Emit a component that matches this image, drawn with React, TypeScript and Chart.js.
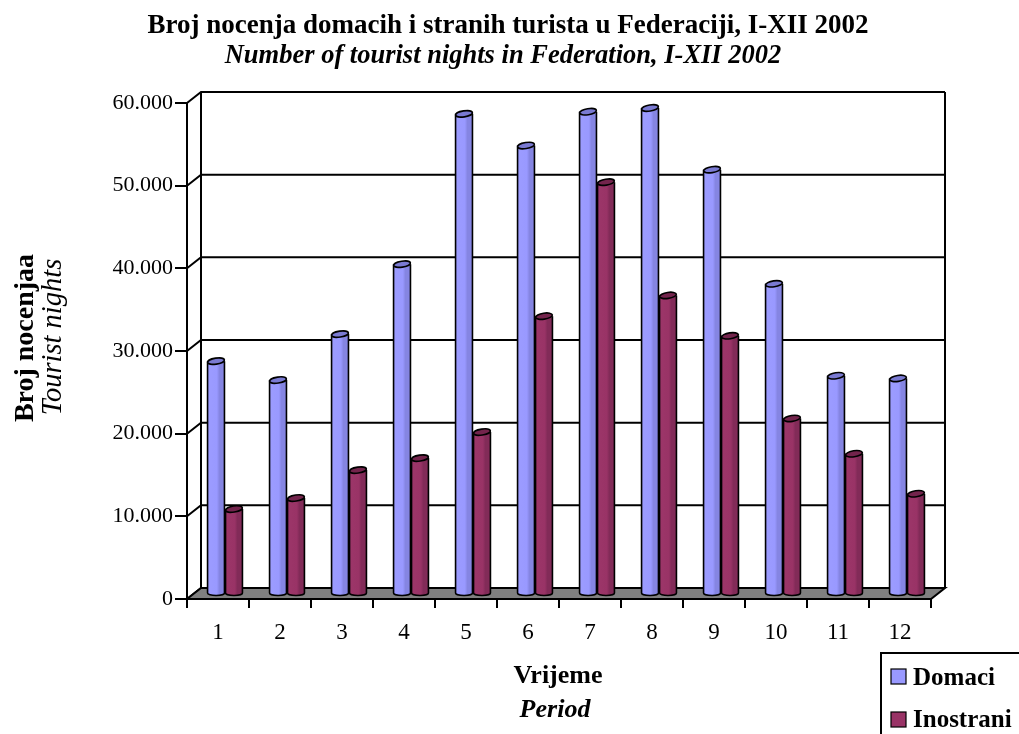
import React, { useEffect, useRef } from "react";
import { Chart, registerables } from "chart.js";

Chart.register(...registerables);

const categories = ["1", "2", "3", "4", "5", "6", "7", "8", "9", "10", "11", "12"];
const domaci = [28170, 25880, 31440, 39900, 58080, 54250, 58340, 58790, 51330, 37520, 26400, 26080];
const inostrani = [10280, 11610, 14990, 16440, 19590, 33610, 49820, 36120, 31230, 21240, 16960, 12130];
const seriesNames = ["Domaci", "Inostrani"];
const titleLine1 = "Broj nocenja domacih i stranih turista u Federaciji, I-XII 2002";
const titleLine2 = "Number of tourist nights in Federation, I-XII 2002";
const xTitle1 = "Vrijeme";
const xTitle2 = "Period";
const yTitle1 = "Broj nocenjaa";
const yTitle2 = "Tourist nights";

const FONT = "'Liberation Serif', 'Times New Roman', serif";
const baseColors = ["#9999FF", "#993366"];
const lightColors = ["#9C9CFF", "#9C3669"];
const darkColors = ["#8585E2", "#822B58"];
const capColors = ["#7A7AD2", "#73244C"];

const WALL_DX = 14;
const WALL_DY = -11;
const BAR_DX = 7;
const BAR_DY = -5;

function fmt(v: number): string {
  const s = Math.round(v).toString();
  return s.replace(/\B(?=(\d{3})+(?!\d))/g, ".");
}

const wallPlugin = {
  id: "wall3d",
  beforeDatasetsDraw(chart: any) {
    const ctx = chart.ctx;
    const { left, right, top, bottom } = chart.chartArea;
    const ys = chart.scales.y;
    ctx.save();
    ctx.strokeStyle = "#000";
    ctx.lineWidth = 2;
    ys.ticks.forEach((t: any) => {
      const yf = ys.getPixelForValue(t.value);
      const yb = yf + WALL_DY;
      ctx.beginPath();
      ctx.moveTo(left, yf);
      ctx.lineTo(left + WALL_DX, yb);
      if (t.value > 0) {
        ctx.lineTo(right + WALL_DX, yb);
      }
      ctx.stroke();
    });
    ctx.beginPath();
    ctx.moveTo(left + WALL_DX, bottom + WALL_DY);
    ctx.lineTo(left + WALL_DX, top + WALL_DY);
    ctx.moveTo(right + WALL_DX, top + WALL_DY);
    ctx.lineTo(right + WALL_DX, bottom + WALL_DY);
    ctx.stroke();
    ctx.beginPath();
    ctx.moveTo(left, bottom);
    ctx.lineTo(right, bottom);
    ctx.lineTo(right + WALL_DX, bottom + WALL_DY);
    ctx.lineTo(left + WALL_DX, bottom + WALL_DY);
    ctx.closePath();
    ctx.fillStyle = "#808080";
    ctx.fill();
    ctx.stroke();
    ctx.restore();

    ctx.save();
    ctx.translate(BAR_DX, BAR_DY);
  },
  afterDatasetsDraw(chart: any) {
    const ctx = chart.ctx;
    chart.data.datasets.forEach((ds: any, di: number) => {
      const meta = chart.getDatasetMeta(di);
      meta.data.forEach((el: any) => {
        const { x, y, base, width } = el.getProps(["x", "y", "base", "width"], true);
        const l = x - width / 2;
        const r = x + width / 2;
        const rx = width / 2;
        const g = ctx.createLinearGradient(l, 0, r, 0);
        g.addColorStop(0, lightColors[di]);
        g.addColorStop(0.55, baseColors[di]);
        g.addColorStop(0.7, darkColors[di]);
        g.addColorStop(1, darkColors[di]);
        ctx.fillStyle = g;
        ctx.fillRect(l, y, width, base - y);
        ctx.beginPath();
        ctx.ellipse(x, base, rx, 2.5, 0, 0, Math.PI);
        ctx.fill();
        ctx.strokeStyle = "#000";
        ctx.lineWidth = 1.6;
        ctx.beginPath();
        ctx.moveTo(l, y);
        ctx.lineTo(l, base);
        ctx.ellipse(x, base, rx, 2.5, 0, Math.PI, 0, true);
        ctx.lineTo(r, y);
        ctx.stroke();
        ctx.beginPath();
        ctx.ellipse(x, y, rx, 3, -0.15, 0, Math.PI * 2);
        ctx.fillStyle = capColors[di];
        ctx.fill();
        ctx.stroke();
      });
    });
    ctx.restore();
  },
  afterDraw(chart: any) {
    const ctx = chart.ctx;
    ctx.save();
    ctx.fillStyle = "#000";
    ctx.textAlign = "center";
    ctx.textBaseline = "alphabetic";
    ctx.font = `bold 27px ${FONT}`;
    ctx.fillText(titleLine1, 508, 33);
    ctx.font = `italic bold 26.5px ${FONT}`;
    ctx.fillText(titleLine2, 503, 63);

    ctx.font = `bold 26px ${FONT}`;
    ctx.fillText(xTitle1, 558, 683);
    ctx.font = `italic bold 26px ${FONT}`;
    ctx.fillText(xTitle2, 555, 717);

    ctx.save();
    ctx.translate(33, 338);
    ctx.rotate(-Math.PI / 2);
    ctx.font = `bold 28px ${FONT}`;
    ctx.fillText(yTitle1, 0, 0);
    ctx.restore();
    ctx.save();
    ctx.translate(61, 337);
    ctx.rotate(-Math.PI / 2);
    ctx.font = `italic 28.5px ${FONT}`;
    ctx.fillText(yTitle2, 0, 0);
    ctx.restore();

    ctx.strokeStyle = "#000";
    ctx.lineWidth = 2;
    ctx.strokeRect(881, 653, 200, 120);
    ctx.textAlign = "left";
    ctx.font = `bold 25px ${FONT}`;
    const legendY = [669, 712];
    const textY = [685, 727];
    seriesNames.forEach((name, i) => {
      ctx.fillStyle = baseColors[i];
      ctx.fillRect(891, legendY[i], 15, 15);
      ctx.lineWidth = 1.2;
      ctx.strokeRect(891, legendY[i], 15, 15);
      ctx.fillStyle = "#000";
      ctx.fillText(name, 913, textY[i]);
    });
    ctx.restore();
  },
};

export default function App() {
  const ref = useRef<HTMLCanvasElement | null>(null);
  useEffect(() => {
    if (!ref.current) return;
    const chart = new Chart(ref.current, {
      type: "bar",
      data: {
        labels: categories,
        datasets: [
          { label: seriesNames[0], data: domaci, backgroundColor: baseColors[0], borderWidth: 0, clip: false as any },
          { label: seriesNames[1], data: inostrani, backgroundColor: baseColors[1], borderWidth: 0, clip: false as any },
        ],
      },
      options: {
        responsive: false,
        animation: false,
        categoryPercentage: 0.58,
        barPercentage: 0.94,
        layout: { padding: { top: 103, right: 88, bottom: 0, left: 0 } },
        plugins: {
          legend: { display: false },
          title: { display: false },
          tooltip: { enabled: false },
        },
        scales: {
          x: {
            offset: true,
            afterFit: (s: any) => {
              s.height = 135;
            },
            grid: {
              offset: true,
              drawOnChartArea: false,
              drawTicks: true,
              tickLength: 9,
              color: "#000",
              lineWidth: 2,
            },
            border: { display: true, color: "#000", width: 2 },
            ticks: {
              color: "#000",
              font: { family: FONT, size: 23 },
              padding: 11,
              maxRotation: 0,
            },
          },
          y: {
            min: 0,
            max: 60000,
            afterFit: (s: any) => {
              s.width = 187;
            },
            grid: {
              drawOnChartArea: false,
              drawTicks: true,
              tickLength: 12,
              color: "#000",
              lineWidth: 2,
            },
            border: { display: true, color: "#000", width: 2 },
            ticks: {
              stepSize: 10000,
              color: "#000",
              font: { family: FONT, size: 22 },
              padding: 2,
              callback: (v: any) => fmt(Number(v)),
            },
          },
        },
      },
      plugins: [wallPlugin],
    });
    return () => chart.destroy();
  }, []);
  return (
    <div style={{ position: "fixed", left: 0, top: 0, width: 1019, height: 734, background: "#fff" }}>
      <canvas ref={ref} width={1019} height={734} style={{ display: "block" }} />
    </div>
  );
}
